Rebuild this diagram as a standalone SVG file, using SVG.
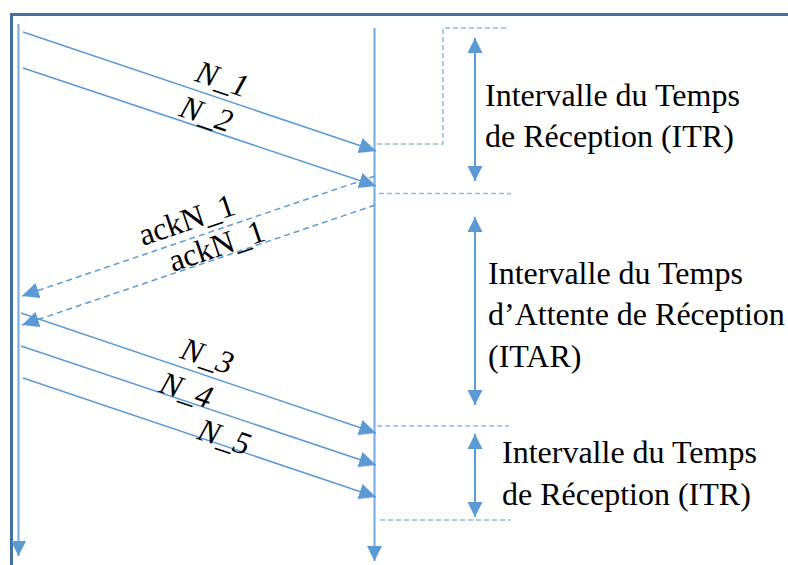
<svg xmlns="http://www.w3.org/2000/svg" width="788" height="565" viewBox="0 0 788 565">
<style>
.frame{stroke:#41719C;stroke-width:3;fill:none}
.tl{stroke:#7DB0DF;stroke-width:2.2;fill:none}
.msg{stroke:#5B9BD5;stroke-width:1.5;fill:none}
.ack{stroke:#5B9BD5;stroke-width:1.5;fill:none;stroke-dasharray:6 4}
.guide{stroke:#8FBCE6;stroke-width:1.5;fill:none;stroke-dasharray:5 3}
.dim{stroke:#5B9BD5;stroke-width:2;fill:none}
</style>
<defs>
<marker id="ah" markerUnits="userSpaceOnUse" markerWidth="18" markerHeight="16" viewBox="0 0 18 16" refX="17" refY="8" orient="auto">
<path d="M0,0 L17,8 L0,16 Z" fill="#5B9BD5"/>
</marker>
<marker id="ahd" markerUnits="userSpaceOnUse" markerWidth="16" markerHeight="16" viewBox="0 0 16 16" refX="15" refY="8" orient="auto-start-reverse">
<path d="M0,0.5 L15,8 L0,15.5 Z" fill="#5B9BD5"/>
</marker>
</defs>
<rect width="788" height="565" fill="#fff"/>
<g id="frame">
<path class="frame" d="M11.5,565 V14.5 H788"/>
</g>
<g id="timelines">
<path class="tl" d="M18.5,24 V556" marker-end="url(#ahd)"/>
<path class="tl" d="M374.5,28 V561" marker-end="url(#ahd)"/>
</g>
<g id="connectors">
<path class="msg" d="M23,32 L376,151" marker-end="url(#ah)"/>
<path class="msg" d="M23,68 L376,186" marker-end="url(#ah)"/>
<path class="ack" d="M375,176 L22,296" marker-end="url(#ah)"/>
<path class="ack" d="M375,205 L22,325" marker-end="url(#ah)"/>
<path class="msg" d="M21,313 L376,433" marker-end="url(#ah)"/>
<path class="msg" d="M21,346 L376,465" marker-end="url(#ah)"/>
<path class="msg" d="M23,378 L376,497" marker-end="url(#ah)"/>
<path class="guide" d="M377,144 H443 V28 H509"/>
<path class="guide" d="M379,193.5 H511"/>
<path class="guide" d="M377,426 H509"/>
<path class="guide" d="M380,520 H511"/>
<path class="dim" d="M475,38 V181" marker-start="url(#ahd)" marker-end="url(#ahd)"/>
<path class="dim" d="M475,217 V405" marker-start="url(#ahd)" marker-end="url(#ahd)"/>
<path class="dim" d="M475,434 V517" marker-start="url(#ahd)" marker-end="url(#ahd)"/>
</g>
<g font-family="Liberation Serif, serif" font-size="32" fill="#000">
<g id="labels-messages">
<text font-style="italic" text-anchor="middle" transform="translate(219,89) rotate(18.6)">N_1</text>
<text font-style="italic" text-anchor="middle" transform="translate(203,124) rotate(18.6)">N_2</text>
<text text-anchor="middle" transform="translate(190,230) rotate(-18.8)">ackN_1</text>
<text text-anchor="middle" transform="translate(220,256) rotate(-18.8)">ackN_1</text>
<text font-style="italic" text-anchor="middle" transform="translate(204,366) rotate(18.6)">N_3</text>
<text font-style="italic" text-anchor="middle" transform="translate(183,400) rotate(18.6)">N_4</text>
<text font-style="italic" text-anchor="middle" transform="translate(221,447) rotate(18.6)">N_5</text>
</g>
<g id="itr1">
<text x="485" y="106">Intervalle du Temps</text>
<text x="485" y="147">de Réception (ITR)</text>
</g>
<g id="itar">
<text x="488" y="284">Intervalle du Temps</text>
<text x="488" y="325">d’Attente de Réception</text>
<text x="488" y="367">(ITAR)</text>
</g>
<g id="itr2">
<text x="502" y="463">Intervalle du Temps</text>
<text x="502" y="505">de Réception (ITR)</text>
</g>
</g>
</svg>
